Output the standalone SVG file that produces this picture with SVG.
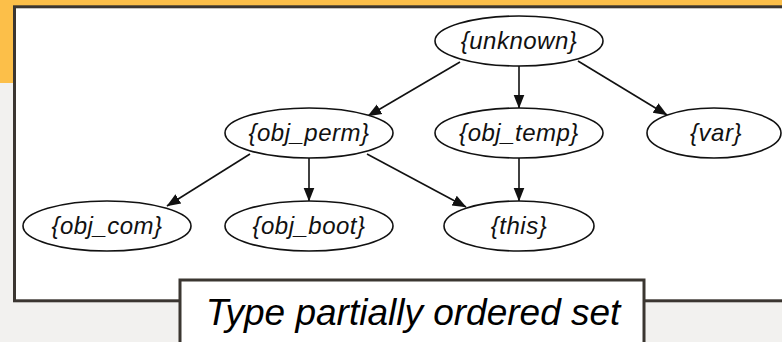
<svg xmlns="http://www.w3.org/2000/svg" width="782" height="342" viewBox="0 0 782 342">
<style>
.node ellipse{fill:#fff;stroke:#111;stroke-width:1.6}
.node text{font-family:"Liberation Sans",Arial,sans-serif;font-style:italic;font-size:24px;letter-spacing:0.5px;fill:#111;text-anchor:middle}
.edge{stroke:#111;stroke-width:1.6;fill:none;marker-end:url(#ah)}
</style>
<defs>
<marker id="ah" markerUnits="userSpaceOnUse" markerWidth="14" markerHeight="14" viewBox="0 0 12 10" refX="11.5" refY="5" orient="auto">
<path d="M0,0.3 L12,5 L0,9.7 Z" fill="#111"/>
</marker>
</defs>
<rect x="0" y="0" width="782" height="342" fill="#f2f1ef"/>
<rect x="0" y="0" width="782" height="6" fill="#fcbf49"/>
<rect x="0" y="0" width="14" height="83" fill="#fcbf49"/>
<rect x="14.5" y="6.8" width="790" height="294" fill="#fff" stroke="#3b3631" stroke-width="3"/>
<g id="connectors">
<line class="edge" x1="460" y1="62" x2="368" y2="116"/>
<line class="edge" x1="519" y1="66" x2="519" y2="108"/>
<line class="edge" x1="578" y1="61" x2="667" y2="115"/>
<line class="edge" x1="250" y1="154" x2="167" y2="206"/>
<line class="edge" x1="309" y1="158" x2="309" y2="201"/>
<line class="edge" x1="367" y1="154" x2="466" y2="207"/>
<line class="edge" x1="519" y1="158" x2="519" y2="201"/>
</g>
<g id="n_unknown" class="node"><ellipse cx="519" cy="41" rx="84" ry="25"/><text x="519" y="49">{unknown}</text></g>
<g id="n_obj_perm" class="node"><ellipse cx="309" cy="133" rx="84" ry="25"/><text x="309" y="141">{obj_perm}</text></g>
<g id="n_obj_temp" class="node"><ellipse cx="519" cy="133" rx="84" ry="25"/><text x="519" y="141">{obj_temp}</text></g>
<g id="n_var" class="node"><ellipse cx="714" cy="133" rx="67" ry="25"/><text x="716" y="141">{var}</text></g>
<g id="n_obj_com" class="node"><ellipse cx="107" cy="226" rx="84" ry="25"/><text x="107" y="234">{obj_com}</text></g>
<g id="n_obj_boot" class="node"><ellipse cx="309" cy="226" rx="84" ry="25"/><text x="309" y="234">{obj_boot}</text></g>
<g id="n_this" class="node"><ellipse cx="519" cy="226" rx="75" ry="25"/><text x="519" y="234">{this}</text></g>
<g id="caption">
<rect x="180" y="280" width="464" height="80" fill="#fff" stroke="#3b3631" stroke-width="3"/>
<text x="413" y="325" font-family="'Liberation Sans',Arial,sans-serif" font-style="italic" font-size="37" fill="#000" text-anchor="middle">Type partially ordered set</text>
</g>
</svg>
